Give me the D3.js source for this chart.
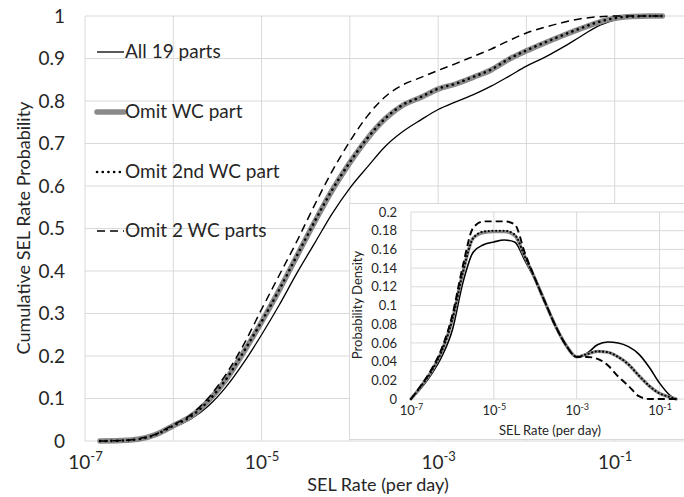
<!DOCTYPE html>
<html>
<head>
<meta charset="utf-8">
<script src="https://cdn.jsdelivr.net/npm/d3@7"></script>
<style>
body { margin: 0; background: #fff; }
text { font-family: Lato, "Open Sans", sans-serif; fill: #262626; }
</style>
</head>
<body>
<script>
// ---- data (x values are log10 of SEL rate per day) ----
var seriesNames = ["All 19 parts", "Omit WC part", "Omit 2nd WC part", "Omit 2 WC parts"];

// cumulative probability, main chart
var cdfExp = [-6.83, -6.6, -6.4, -6.2, -6.0, -5.8, -5.6, -5.4, -5.2, -5.0, -4.8, -4.6, -4.4, -4.2, -4.0, -3.8,
    -3.6, -3.4, -3.2, -3.0, -2.8, -2.6, -2.4, -2.2, -2.0, -1.8, -1.6, -1.4, -1.2, -1.0, -0.8, -0.6, -0.46];
var cdfAll = [0, 0.001, 0.004, 0.013, 0.032, 0.052, 0.083, 0.128, 0.185, 0.25, 0.32, 0.395, 0.465, 0.535, 0.595, 0.645,
    0.693, 0.728, 0.755, 0.78, 0.798, 0.815, 0.835, 0.858, 0.882, 0.902, 0.925, 0.95, 0.975, 0.99, 0.999, 1, 1];
var cdfOmitWC = [0, 0.001, 0.004, 0.015, 0.036, 0.058, 0.095, 0.145, 0.21, 0.28, 0.355, 0.435, 0.515, 0.59, 0.655, 0.712,
    0.758, 0.79, 0.808, 0.828, 0.84, 0.856, 0.873, 0.898, 0.918, 0.936, 0.953, 0.969, 0.984, 0.995, 0.999, 1, 1];
var cdfOmit2nd = [0, 0.001, 0.004, 0.015, 0.036, 0.058, 0.095, 0.146, 0.211, 0.281, 0.356, 0.436, 0.516, 0.591, 0.656, 0.713,
    0.759, 0.791, 0.809, 0.829, 0.841, 0.857, 0.874, 0.899, 0.919, 0.937, 0.954, 0.97, 0.985, 0.995, 0.999, 1, 1];
var cdfOmit2 = [0, 0.001, 0.005, 0.016, 0.038, 0.062, 0.102, 0.158, 0.228, 0.31, 0.39, 0.47, 0.555, 0.635, 0.705, 0.765,
    0.81, 0.838, 0.855, 0.872, 0.888, 0.905, 0.922, 0.942, 0.96, 0.973, 0.984, 0.993, 0.998, 1, 1, 1, 1];

// probability density, inset
var pdfExp = [-7, -6.75, -6.5, -6.25, -6.0, -5.75, -5.5, -5.25, -5.0, -4.75, -4.5, -4.25, -4.0, -3.75,
    -3.5, -3.25, -3.0, -2.75, -2.5, -2.25, -2.0, -1.75, -1.5, -1.25, -1.0, -0.75, -0.6];
var pdfAll = [0, 0.012, 0.027, 0.046, 0.074, 0.124, 0.157, 0.165, 0.168, 0.17, 0.168, 0.148, 0.127, 0.102,
    0.077, 0.057, 0.045, 0.049, 0.058, 0.061, 0.06, 0.056, 0.048, 0.034, 0.017, 0.004, 0];
var pdfOmitWC = [0, 0.014, 0.03, 0.052, 0.085, 0.135, 0.172, 0.178, 0.179, 0.179, 0.175, 0.152, 0.128, 0.102,
    0.077, 0.057, 0.045, 0.048, 0.051, 0.05, 0.045, 0.037, 0.025, 0.014, 0.006, 0.002, 0];
var pdfOmit2nd = [0, 0.014, 0.03, 0.052, 0.085, 0.135, 0.172, 0.179, 0.18, 0.18, 0.176, 0.152, 0.128, 0.102,
    0.077, 0.057, 0.045, 0.048, 0.051, 0.05, 0.045, 0.037, 0.025, 0.014, 0.006, 0.002, 0];
var pdfOmit2 = [0, 0.015, 0.032, 0.055, 0.09, 0.142, 0.183, 0.19, 0.19, 0.19, 0.187, 0.156, 0.128, 0.102,
    0.077, 0.057, 0.045, 0.045, 0.043, 0.036, 0.024, 0.014, 0.003, 0, 0, 0, 0];

var mainYTicks = [0, 0.1, 0.2, 0.3, 0.4, 0.5, 0.6, 0.7, 0.8, 0.9, 1];
var insetYTicks = [0, 0.02, 0.04, 0.06, 0.08, 0.1, 0.12, 0.14, 0.16, 0.18, 0.2];
var mainGridExp = [-7, -6, -5, -4, -3, -2, -1];
var labelExp = [-7, -5, -3, -1];

// ---- styles per series (same order as seriesNames) ----
var styles = [
    { color: "#000", width: 1.3, dash: null, cap: "butt" },
    { color: "#8a8a8a", width: 5.5, dash: null, cap: "round" },
    { color: "#000", width: 2.6, dash: "0.1,5.6", cap: "round" },
    { color: "#000", width: 1.5, dash: "8,5", cap: "butt" }
];
var insetScale = [1.2, 0.6, 0.8, 1.3];

var W = 684, H = 497;
var svg = d3.select("body").append("svg")
    .attr("width", W)
    .attr("height", H);

var x = d3.scaleLog().domain([1e-7, 1]).range([85, 703]);
var y = d3.scaleLinear().domain([0, 1]).range([441, 16]);

//gridlines
svg.append("g").selectAll("line")
    .data(mainYTicks)
    .enter().append("line")
    .attr("x1", 85).attr("x2", W)
    .attr("y1", d => y(d)).attr("y2", d => y(d))
    .attr("stroke", "#d9d9d9").attr("stroke-width", 1);
svg.append("g").selectAll("line")
    .data(mainGridExp)
    .enter().append("line")
    .attr("x1", d => x(Math.pow(10, d))).attr("x2", d => x(Math.pow(10, d)))
    .attr("y1", y(0)).attr("y2", y(1))
    .attr("stroke", "#d9d9d9").attr("stroke-width", 1);

//y axis
svg.append("g")
    .attr("transform", "translate(85,0)")
    .call(d3.axisLeft(y).tickValues(mainYTicks).tickSize(0).tickPadding(20).tickFormat(d => String(d)))
    .call(g => g.select(".domain").remove())
    .selectAll("text")
    .style("font-size", "19px")
    .style("font-family", "Lato, sans-serif")
    .attr("fill", "#262626");

//x axis with superscript exponents
function powerLabels(sel, base, size, supSize, sup) {
    sel.selectAll("text").each(function (d) {
        var t = d3.select(this);
        var e = Math.round(Math.log10(d));
        t.text(null).attr("y", base).attr("dy", null)
            .style("font-size", size + "px")
            .style("font-family", "Lato, sans-serif")
            .attr("fill", "#262626");
        t.append("tspan").text("10");
        t.append("tspan").attr("dy", -sup).style("font-size", supSize + "px").text(e);
    });
}
svg.append("g")
    .attr("transform", "translate(0,441)")
    .call(d3.axisBottom(x).tickValues(labelExp.map(e => Math.pow(10, e))).tickSize(0))
    .call(g => g.select(".domain").remove())
    .call(g => powerLabels(g, 28, 19, 13, 8));

svg.append("text")
    .attr("x", 378).attr("y", 491)
    .attr("text-anchor", "middle")
    .style("font-size", "18px")
    .text("SEL Rate (per day)");

svg.append("text")
    .attr("transform", "translate(30,228) rotate(-90)")
    .attr("text-anchor", "middle")
    .style("font-size", "18px")
    .text("Cumulative SEL Rate Probability");

//main curves
var cdfSeries = [cdfAll, cdfOmitWC, cdfOmit2nd, cdfOmit2];
var mainLine = d3.line()
    .x((d, i) => x(Math.pow(10, cdfExp[i])))
    .y(d => y(d))
    .curve(d3.curveMonotoneX);

svg.append("g").selectAll("path")
    .data(cdfSeries)
    .enter().append("path")
    .attr("d", mainLine)
    .attr("fill", "none")
    .attr("stroke", (d, i) => styles[i].color)
    .attr("stroke-width", (d, i) => styles[i].width)
    .attr("stroke-dasharray", (d, i) => styles[i].dash)
    .attr("stroke-linecap", (d, i) => styles[i].cap);

//legend
var legendY = [52, 112, 172, 231];
var legend = svg.append("g").selectAll("g")
    .data(seriesNames)
    .enter().append("g")
    .attr("transform", (d, i) => "translate(95," + legendY[i] + ")");
legend.append("line")
    .attr("x1", 2).attr("x2", 29)
    .attr("stroke", (d, i) => styles[i].color)
    .attr("stroke-width", (d, i) => styles[i].width)
    .attr("stroke-dasharray", (d, i) => styles[i].dash)
    .attr("stroke-linecap", (d, i) => styles[i].cap);
legend.append("text")
    .attr("x", 30).attr("y", 6)
    .style("font-size", "19px")
    .text(d => d);

// ---- inset ----
var inset = svg.append("g");
inset.append("rect")
    .attr("x", 349.5).attr("y", 203.5)
    .attr("width", 350).attr("height", 236)
    .attr("fill", "#fff")
    .attr("stroke", "#d9d9d9");

var xi = d3.scaleLog().domain([1e-7, 1]).range([411, 701]);
var yi = d3.scaleLinear().domain([0, 0.2]).range([399, 212]);

inset.append("g").selectAll("line")
    .data(insetYTicks)
    .enter().append("line")
    .attr("x1", 411).attr("x2", W)
    .attr("y1", d => yi(d)).attr("y2", d => yi(d))
    .attr("stroke", "#d9d9d9");
inset.append("g").selectAll("line")
    .data(labelExp)
    .enter().append("line")
    .attr("x1", d => xi(Math.pow(10, d))).attr("x2", d => xi(Math.pow(10, d)))
    .attr("y1", yi(0)).attr("y2", yi(0.2))
    .attr("stroke", "#d9d9d9");

inset.append("g")
    .attr("transform", "translate(411,0)")
    .call(d3.axisLeft(yi).tickValues(insetYTicks).tickSize(0).tickPadding(14).tickFormat(d => String(d)))
    .call(g => g.select(".domain").remove())
    .selectAll("text")
    .style("font-size", "13px")
    .style("font-family", "Lato, sans-serif")
    .attr("fill", "#262626");

inset.append("g")
    .attr("transform", "translate(0,399)")
    .call(d3.axisBottom(xi).tickValues(labelExp.map(e => Math.pow(10, e))).tickSize(0))
    .call(g => g.select(".domain").remove())
    .call(g => powerLabels(g, 16, 13, 9, 5));

inset.append("text")
    .attr("x", 550).attr("y", 435)
    .attr("text-anchor", "middle")
    .style("font-size", "13px")
    .text("SEL Rate (per day)");

inset.append("text")
    .attr("transform", "translate(362,305) rotate(-90)")
    .attr("text-anchor", "middle")
    .style("font-size", "13px")
    .text("Probability Density");

var pdfSeries = [pdfAll, pdfOmitWC, pdfOmit2nd, pdfOmit2];
var insetLine = d3.line()
    .x((d, i) => xi(Math.pow(10, pdfExp[i])))
    .y(d => yi(d))
    .curve(d3.curveMonotoneX);

inset.append("g").selectAll("path")
    .data(pdfSeries)
    .enter().append("path")
    .attr("d", insetLine)
    .attr("fill", "none")
    .attr("stroke", (d, i) => styles[i].color)
    .attr("stroke-width", (d, i) => styles[i].width * insetScale[i])
    .attr("stroke-dasharray", (d, i) => i == 2 ? "0.1,3.6" : (i == 3 ? "7,4" : null))
    .attr("stroke-linecap", (d, i) => styles[i].cap);
</script>
</body>
</html>
